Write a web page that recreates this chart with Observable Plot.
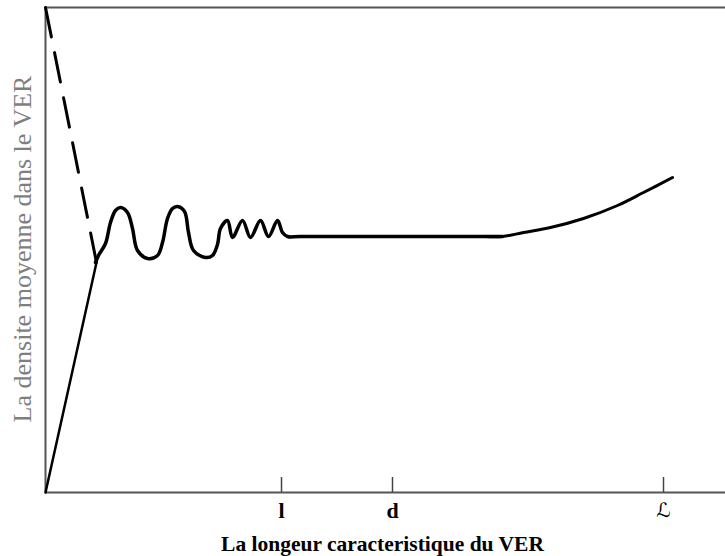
<!DOCTYPE html>
<html>
<head>
<meta charset="utf-8">
<script src="https://cdn.jsdelivr.net/npm/d3@7"></script>
<script src="https://cdn.jsdelivr.net/npm/@observablehq/plot@0.6"></script>
<style>
  html, body { margin: 0; padding: 0; background: #fff; }
  #chart svg { display: block; }
</style>
</head>
<body>
<div id="chart"></div>
<script>
// Values (arbitrary length / density units)
const dashX = [0, 51];
const dashY = [485, 230];

const riseX = [0, 51];
const riseY = [0, 230];

const oscX = [50, 53, 60, 65, 70, 75, 82, 87, 92, 102, 112, 117, 122, 127, 132, 139, 143, 148, 160, 167, 172, 175, 182, 187, 197, 205, 215, 223, 232, 237, 242, 255, 457];
const oscY = [230, 237, 249, 270, 282, 285, 280, 264, 242, 234, 237, 250, 274, 284, 286, 281, 260, 242, 235, 237, 248, 264, 272, 255, 272, 255, 272, 256, 272, 260, 256, 256, 256];

const tailX = [440, 457, 478, 505, 538, 572, 598, 627];
const tailY = [256, 256, 260, 265, 274, 287, 300, 315];

const tickPos = [236, 347, 618];
const tickLabels = ["l", "d", "\u2112"];

const xTitle = "La longeur caracteristique du VER";
const yTitle = "La densite moyenne dans le VER";

const serif = "'Liberation Serif', 'Times New Roman', serif";
const toPts = (xs, ys) => xs.map((x, i) => ({x, y: ys[i]}));

const chart = Plot.plot({
  width: 725,
  height: 556,
  marginLeft: 45,
  marginRight: 0,
  marginTop: 7,
  marginBottom: 64,
  x: {domain: [0, 680], axis: null},
  y: {domain: [0, 485], axis: null},
  style: {fontFamily: serif, background: "#fff"},
  marks: [
    // frame (left, top, bottom)
    Plot.ruleX([0], {stroke: "#555", strokeWidth: 2}),
    Plot.ruleY([485], {stroke: "#555", strokeWidth: 2}),
    Plot.ruleY([0], {stroke: "#555", strokeWidth: 2}),
    // ticks pointing up
    Plot.ruleX(tickPos, {y1: 0, y2: 15, stroke: "#444", strokeWidth: 1.5}),
    Plot.text(tickPos.slice(0, 2), {
      x: d => d, y: 0, text: (d, i) => tickLabels[i],
      dy: 25, lineAnchor: "bottom", fontSize: 22, fontWeight: "bold", fill: "#000"
    }),
    Plot.text([tickPos[2]], {
      x: d => d, y: 0, text: [tickLabels[2]],
      dy: 24, lineAnchor: "bottom", fontSize: 20, fill: "#000",
      fontFamily: "'DejaVu Serif', 'DejaVu Sans', serif", fontStyle: "italic"
    }),
    // curves
    Plot.line(toPts(dashX, dashY), {x: "x", y: "y", stroke: "#000", strokeWidth: 3, strokeDasharray: "30,16"}),
    Plot.line(toPts(riseX, riseY), {x: "x", y: "y", stroke: "#000", strokeWidth: 2.5}),
    Plot.line(toPts(oscX, oscY), {x: "x", y: "y", stroke: "#000", strokeWidth: 3.5, curve: "catmull-rom"}),
    Plot.line(toPts(tailX, tailY), {x: "x", y: "y", stroke: "#000", strokeWidth: 3, curve: "catmull-rom"}),
    // axis titles
    Plot.text([xTitle], {
      frameAnchor: "bottom", dx: -3, dy: 58, lineAnchor: "bottom",
      fontSize: 21.5, fontWeight: "bold", fill: "#000"
    }),
    Plot.text([yTitle], {
      frameAnchor: "left", textAnchor: "middle", dx: -23, dy: -1, rotate: -90, lineAnchor: "middle",
      fontSize: 26, fill: "#7f7f7f"
    })
  ]
});

document.getElementById("chart").appendChild(chart);
</script>
</body>
</html>
